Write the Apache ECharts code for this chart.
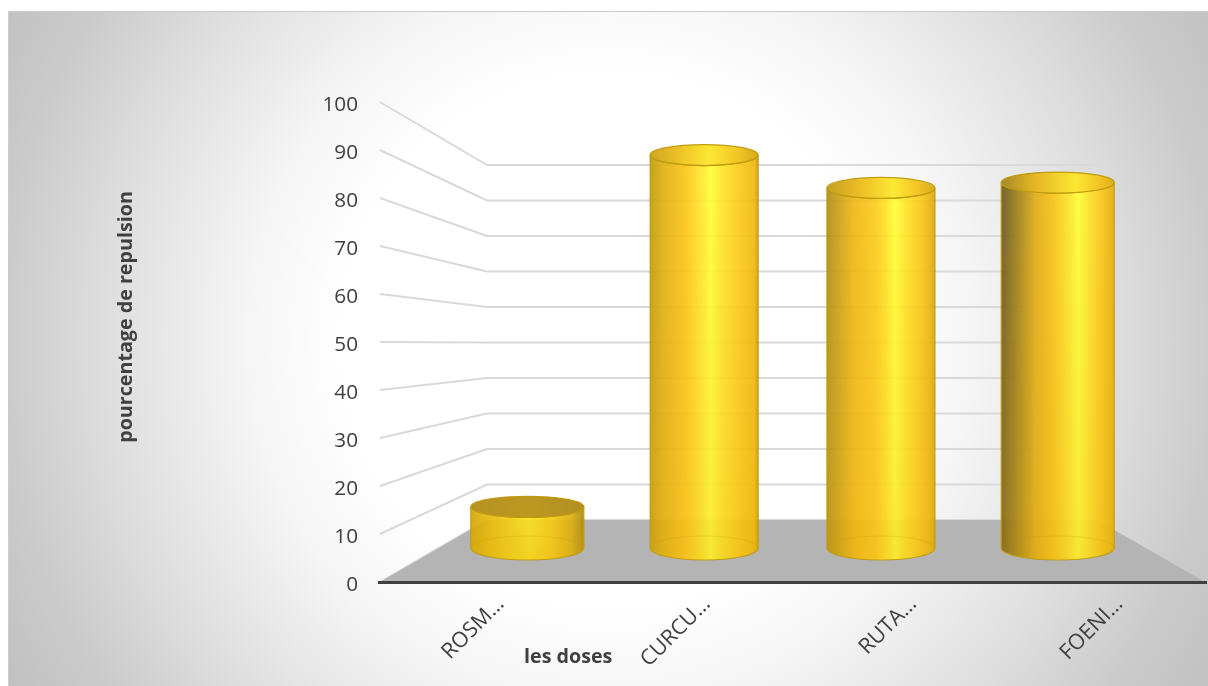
<!DOCTYPE html>
<html>
<head>
<meta charset="utf-8">
<title>pourcentage de repulsion</title>
<style>
  html, body { margin: 0; padding: 0; background: #fff; }
  #chart { width: 1208px; height: 686px; }
</style>
<script src="https://cdn.jsdelivr.net/npm/echarts@6/dist/echarts.min.js"></script>
</head>
<body>
<div id="chart"></div>
<script>
// Chart data
const categories = ['ROSM…', 'CURCU…', 'RUTA…', 'FOENI…'];
const repulsion = [10, 95.5, 87.5, 88.8];
const yTicks = [0, 10, 20, 30, 40, 50, 60, 70, 80, 90, 100];
const yTitle = 'pourcentage de repulsion';
const xTitle = 'les doses';

// Perspective of the box: the axes live on the front plane, and the back wall
// is that plane lifted and shrunk. Depth runs from 0 (front) to 1 (back).
const FONT = '"Open Sans", "Noto Sans", sans-serif';
const GRID_LEFT = 380, GRID_WIDTH = 825;
const BACK_INSET = 107, BACK_WIDTH = 610;
const DEPTH_LIFT = 62, DEPTH_SHRINK = 0.7396, BAR_DEPTH = 0.548, BAR_NUDGE = 0.3;

function depthY(frontY, zeroY, depth) {
  const height = zeroY - frontY;
  return zeroY - DEPTH_LIFT * depth - height * (1 - (1 - DEPTH_SHRINK) * depth);
}
function depthX(frontX, depth) {
  const backX = GRID_LEFT + BACK_INSET + (frontX - GRID_LEFT) * BACK_WIDTH / GRID_WIDTH;
  return frontX + (backX - frontX) * depth;
}

// Lighting across each cylinder, left to right
const cylinderWidths = [113, 108, 108, 113];
const bodyStops = [
  [[0, '#d2a608'], [0.14, '#e6b80e'], [0.38, '#f5d41c'], [0.52, '#fbe322'], [0.72, '#f6ca18'], [0.88, '#dcb012'], [1, '#a98a14']],
  [[0, '#c09a10'], [0.12, '#dfb014'], [0.33, '#fcc61c'], [0.47, '#fee72e'], [0.56, '#ffff38'], [0.66, '#fee62c'], [0.82, '#fdcb1c'], [0.96, '#eeba12'], [1, '#c49e0e']],
  [[0, '#ad8e18'], [0.25, '#efb818'], [0.45, '#fdcb1e'], [0.55, '#fee42a'], [0.63, '#ffff38'], [0.72, '#fee62c'], [0.86, '#fdc81c'], [0.97, '#e4b212'], [1, '#c8a010']],
  [[0, '#6a5820'], [0.14, '#9c7f1c'], [0.3, '#e0ac18'], [0.46, '#f8c41a'], [0.58, '#fde22a'], [0.68, '#ffff38'], [0.77, '#fee62c'], [0.88, '#fcc81c'], [1, '#e0b010']]
];
const capStops = [
  [[0, '#b28d18'], [0.5, '#bb9418'], [1, '#ad8a1a']],
  [[0, '#c9a31a'], [0.25, '#ecbc1c'], [0.55, '#fde62c'], [0.8, '#f2c41c'], [1, '#d2a812']],
  [[0, '#c09c1a'], [0.3, '#ecba1c'], [0.62, '#fde82c'], [0.85, '#f2c01c'], [1, '#d2a812']],
  [[0, '#a2851e'], [0.3, '#e6b41c'], [0.66, '#fde82c'], [0.88, '#f2c01c'], [1, '#d8ae12']]
];

function hGrad(stops) {
  return {
    type: 'linear', x: 0, y: 0, x2: 1, y2: 0,
    colorStops: stops.map(s => ({ offset: s[0], color: s[1] }))
  };
}

function renderWall(params, api) {
  const frontY = api.coord([0, api.value(1)])[1];
  const zeroY = api.coord([0, 0])[1];
  const backY = depthY(frontY, zeroY, 1);
  const backLeft = GRID_LEFT + BACK_INSET;
  return {
    type: 'polyline',
    shape: { points: [[GRID_LEFT, frontY], [backLeft, backY], [backLeft + BACK_WIDTH, backY]] },
    style: { fill: null, stroke: '#d9d9d9', lineWidth: 2 }
  };
}

function renderFloor(params, api) {
  const zeroY = api.coord([0, 0])[1];
  const backY = zeroY - DEPTH_LIFT;
  const backLeft = GRID_LEFT + BACK_INSET;
  return {
    type: 'group',
    children: [
      {
        type: 'polygon',
        shape: {
          points: [[GRID_LEFT, zeroY], [backLeft, backY], [backLeft + BACK_WIDTH, backY], [GRID_LEFT + GRID_WIDTH, zeroY]]
        },
        style: { fill: '#b4b4b4' }
      },
      {
        type: 'line',
        shape: { x1: GRID_LEFT - 2, y1: zeroY + 0.5, x2: GRID_LEFT + GRID_WIDTH + 2, y2: zeroY + 0.5 },
        style: { stroke: '#404040', lineWidth: 3 }
      }
    ]
  };
}

function renderCylinder(params, api) {
  const i = api.value(0);
  const foot = api.coord([i, 0]);
  const zeroY = foot[1];
  const frontTop = api.coord([i, api.value(1)])[1];
  const centre = depthX(foot[0], BAR_DEPTH) + BAR_NUDGE;
  const baseY = depthY(zeroY, zeroY, BAR_DEPTH);
  const topY = depthY(frontTop, zeroY, BAR_DEPTH);
  const rx = cylinderWidths[i] / 2, ryBase = 12, ryTop = 10.5;
  const l = centre - rx, r = centre + rx;
  const body = 'M' + l + ' ' + topY +
    ' L' + l + ' ' + baseY +
    ' A' + rx + ' ' + ryBase + ' 0 0 0 ' + r + ' ' + baseY +
    ' L' + r + ' ' + topY +
    ' A' + rx + ' ' + ryTop + ' 0 0 1 ' + l + ' ' + topY + ' Z';
  const backArc = 'M' + l + ' ' + baseY + ' A' + rx + ' ' + ryBase + ' 0 0 1 ' + r + ' ' + baseY;
  return {
    type: 'group',
    children: [
      {
        type: 'path', shape: { pathData: body },
        style: { fill: hGrad(bodyStops[i]), stroke: '#bd9a10', lineWidth: 1.2, opacity: 0.93 }
      },
      {
        // Warm shade that deepens towards the foot of the cylinder
        type: 'path', shape: { pathData: body },
        style: {
          fill: {
            type: 'linear', x: 0, y: 0, x2: 0, y2: 1,
            colorStops: [
              { offset: 0, color: 'rgba(230,170,0,0)' },
              { offset: 1, color: 'rgba(230,170,0,0.22)' }
            ]
          },
          stroke: null
        }
      },
      {
        type: 'path', shape: { pathData: backArc },
        style: { fill: null, stroke: 'rgba(190,145,0,0.22)', lineWidth: 1 }
      },
      {
        type: 'ellipse',
        shape: { cx: centre, cy: topY, rx: rx, ry: ryTop },
        style: { fill: hGrad(capStops[i]), stroke: '#bd9a10', lineWidth: 1.2, opacity: 0.96 }
      }
    ]
  };
}

const chart = echarts.init(document.getElementById('chart'), null, { renderer: 'canvas' });
chart.setOption({
  animation: false,
  graphic: [
    {
      type: 'rect', silent: true, z: -10,
      shape: { x: 8.5, y: 11.5, width: 1210, height: 690 },
      style: {
        fill: new echarts.graphic.RadialGradient(610, 340, 700, [
          { offset: 0, color: '#ffffff' },
          { offset: 0.38, color: '#ffffff' },
          { offset: 0.52, color: '#f5f5f5' },
          { offset: 0.72, color: '#dedede' },
          { offset: 0.87, color: '#cbcbcb' },
          { offset: 1, color: '#c0c0c0' }
        ], true),
        stroke: '#cccccc', lineWidth: 1
      }
    },
    {
      type: 'text', silent: true, left: 524, top: 647,
      style: { text: xTitle, fill: '#404040', font: '700 19.7px ' + FONT }
    },
    {
      type: 'text', silent: true, x: 126, y: 317, rotation: Math.PI / 2,
      style: {
        text: yTitle, fill: '#404040', font: '700 19.7px ' + FONT,
        align: 'center', verticalAlign: 'middle'
      }
    }
  ],
  grid: { left: GRID_LEFT, top: 102, width: GRID_WIDTH, height: 480, containLabel: false },
  xAxis: {
    type: 'category',
    data: categories,
    axisLine: { show: false },
    axisTick: { show: false },
    axisLabel: {
      interval: 0, rotate: 45, margin: 1,
      align: 'right', verticalAlign: 'top', padding: [14, 0, 0, 0],
      color: '#404040', fontFamily: FONT, fontSize: 21.5
    }
  },
  yAxis: {
    type: 'value', min: 0, max: 100, interval: 10,
    axisLine: { show: false },
    axisTick: { show: false },
    splitLine: { show: false },
    axisLabel: {
      margin: 22, verticalAlign: 'top', lineHeight: 6,
      color: '#404040', fontFamily: FONT, fontSize: 20.7
    }
  },
  series: [
    {
      type: 'custom', name: 'wall', z: 1, silent: true,
      renderItem: renderWall,
      encode: { x: 0, y: 1 },
      data: yTicks.map(v => [0, v])
    },
    {
      type: 'custom', name: 'floor', z: 2, silent: true,
      renderItem: renderFloor,
      encode: { x: 0, y: 1 },
      data: [[0, 0]]
    },
    {
      type: 'custom', name: yTitle, z: 3,
      renderItem: renderCylinder,
      encode: { x: 0, y: 1 },
      data: repulsion.map((v, i) => [i, v])
    }
  ]
});
</script>
</body>
</html>
